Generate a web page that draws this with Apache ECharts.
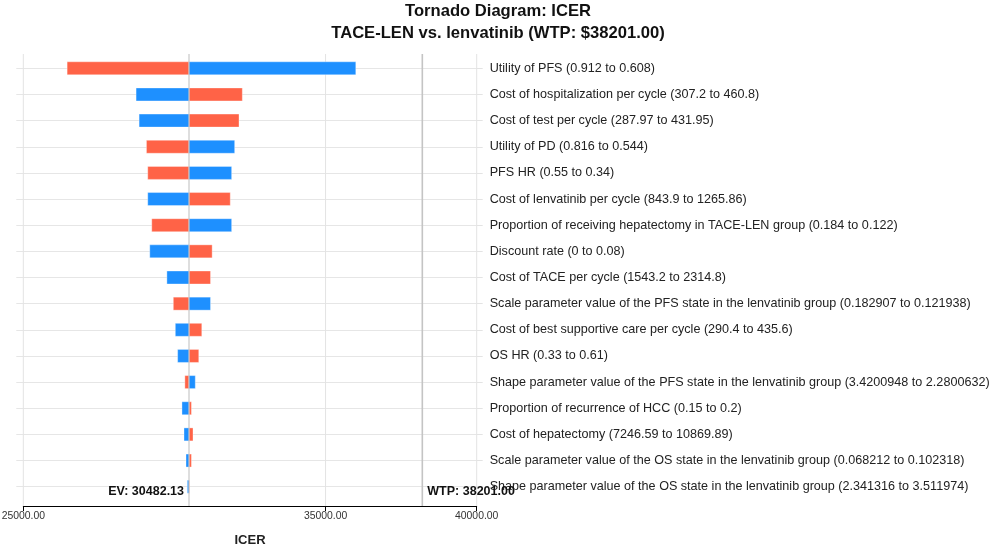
<!DOCTYPE html>
<html>
<head>
<meta charset="utf-8">
<script src="https://cdn.jsdelivr.net/npm/echarts@6/dist/echarts.min.js"></script>
<style>
  html, body { margin: 0; padding: 0; background: #fff; }
  #main { width: 996px; height: 545px; }
</style>
</head>
<body>
<div id="main"></div>
<script>
  // parameters, top to bottom
  const params = [
    'Utility of PFS (0.912 to 0.608)',
    'Cost of hospitalization per cycle (307.2 to 460.8)',
    'Cost of test per cycle (287.97 to 431.95)',
    'Utility of PD (0.816 to 0.544)',
    'PFS HR (0.55 to 0.34)',
    'Cost of lenvatinib per cycle (843.9 to 1265.86)',
    'Proportion of receiving hepatectomy in TACE-LEN group (0.184 to 0.122)',
    'Discount rate (0 to 0.08)',
    'Cost of TACE per cycle (1543.2 to 2314.8)',
    'Scale parameter value of the PFS state in the lenvatinib group (0.182907 to 0.121938)',
    'Cost of best supportive care per cycle (290.4 to 435.6)',
    'OS HR (0.33 to 0.61)',
    'Shape parameter value of the PFS state in the lenvatinib group (3.4200948 to 2.2800632)',
    'Proportion of recurrence of HCC (0.15 to 0.2)',
    'Cost of hepatectomy (7246.59 to 10869.89)',
    'Scale parameter value of the OS state in the lenvatinib group (0.068212 to 0.102318)',
    'Shape parameter value of the OS state in the lenvatinib group (2.341316 to 3.511974)'
  ]
  // ICER at each end of the range
  const redEnd = [26450, 32246, 32136, 29074, 29117, 31847, 29250, 31248, 31194, 29963, 30905, 30805, 30345, 30562, 30615, 30562, 30500]
  const blueEnd = [36000, 28731, 28831, 31993, 31893, 29117, 31893, 29184, 29750, 31194, 30029, 30106, 30690, 30249, 30316, 30382, 30426]

  const EV = 30482.13
  const WTP = 38201.00
  const xTicks = [25000, 35000, 40000]

  const font = 'Liberation Sans, Arial, sans-serif'
  const axisGap = 19.3 // x axis sits below the last row
  const topGap = 14.3  // vertical lines start above the first row

  let chart = echarts.init(document.getElementById('main'))

  function barSeries(name, values, color) {
    return {
      type: 'custom',
      name: name,
      z: 3,
      data: values.map((v, i) => [v, i]),
      renderItem(p, api) {
        let a = api.coord([EV, api.value(1)])
        let b = api.coord([api.value(0), api.value(1)])
        let h = 13
        return {
          type: 'rect',
          shape: { x: Math.min(a[0], b[0]), y: a[1] - h / 2, width: Math.abs(b[0] - a[0]), height: h },
          style: { fill: color, stroke: 'rgba(255,255,255,0.35)', lineWidth: 1 }
        }
      }
    }
  }

  // vertical lines from above the first row down to the x axis
  function vLines(name, values, color, width, z, labelSide) {
    return {
      type: 'custom',
      name: name,
      z: z,
      silent: true,
      data: values.map(v => [v, 0]),
      renderItem(p, api) {
        let cs = p.coordSys
        let x = api.coord([api.value(0), 0])[0]
        let bottom = cs.y + cs.height + axisGap
        let children = [{
          type: 'line',
          shape: { x1: x, y1: cs.y - topGap, x2: x, y2: bottom },
          style: { stroke: color, lineWidth: width }
        }]
        if (labelSide) {
          children.push({
            type: 'text',
            x: labelSide === 'left' ? x - 5 : x + 5,
            y: bottom - 14,
            style: {
              text: name + ': ' + api.value(0).toFixed(2),
              align: labelSide === 'left' ? 'right' : 'left',
              verticalAlign: 'middle',
              font: 'bold 12.5px ' + font,
              fill: '#111'
            }
          })
        }
        return { type: 'group', children: children }
      }
    }
  }

  let option = {
    animation: false,
    textStyle: { fontFamily: font },
    title: {
      text: 'Tornado Diagram: ICER\nTACE-LEN vs. lenvatinib (WTP: $38201.00)',
      left: 'center',
      top: 0,
      padding: 0,
      textStyle: { fontSize: 16.6, fontWeight: 'bold', color: '#111', lineHeight: 22, fontFamily: font }
    },
    grid: {
      left: 23.3,
      right: 519.3,
      top: 68.3,
      bottom: 58.3,
      outerBoundsMode: 'none'
    },
    xAxis: {
      type: 'value',
      min: 25000,
      max: 40000,
      interval: 5000,
      offset: axisGap,
      axisLine: { show: true, lineStyle: { color: '#000', width: 1 } },
      axisTick: { show: true, customValues: xTicks, length: 5, lineStyle: { color: '#000' } },
      axisLabel: {
        customValues: xTicks,
        formatter: v => v.toFixed(2),
        fontSize: 10.4,
        color: '#333',
        margin: 5
      },
      splitLine: { show: false },
      name: 'ICER',
      nameLocation: 'middle',
      nameGap: 28,
      nameTextStyle: { fontSize: 13, fontWeight: 'bold', color: '#222' }
    },
    yAxis: [
      {
        type: 'category',
        data: params,
        inverse: true,
        boundaryGap: false,
        position: 'right',
        axisLine: { show: false },
        axisTick: { show: true, length: 6, lineStyle: { color: '#e3e3e3' } },
        axisLabel: { margin: 13, fontSize: 12.6, color: '#222' },
        splitLine: { show: true, lineStyle: { color: '#e6e6e6', width: 1 } }
      },
      {
        type: 'category',
        data: params,
        inverse: true,
        boundaryGap: false,
        position: 'left',
        axisLine: { show: false },
        axisTick: { show: true, length: 7, lineStyle: { color: '#e6e6e6' } },
        axisLabel: { show: false },
        splitLine: { show: false }
      }
    ],
    series: [
      vLines('grid', xTicks, '#e3e3e3', 1, 1, null),
      barSeries('Red', redEnd, '#FF6347'),
      barSeries('Blue', blueEnd, '#1E90FF'),
      vLines('EV', [EV], '#bdbdbd', 1, 4, 'left'),
      vLines('WTP', [WTP], '#c4c4c4', 1.6, 4, 'right')
    ]
  }

  chart.setOption(option)
</script>
</body>
</html>
